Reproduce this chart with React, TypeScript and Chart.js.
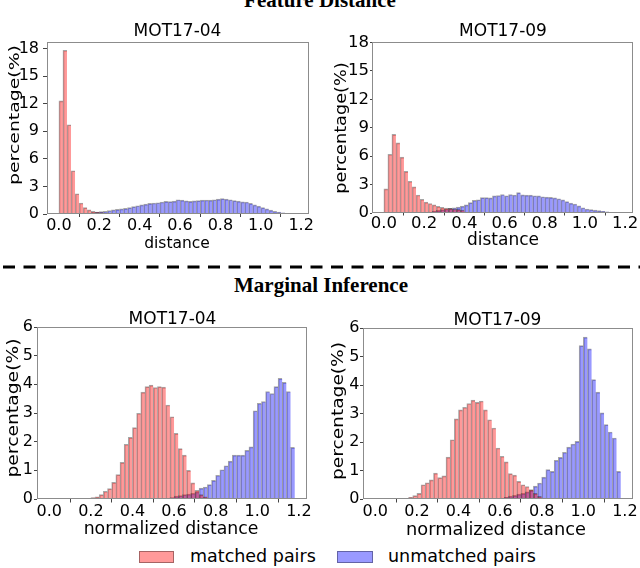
import { useEffect, useRef } from "react";
import { Chart, registerables } from "chart.js";

Chart.register(...registerables);

// ---------- data ----------
const binCenters = [
  0.01, 0.03, 0.05, 0.07, 0.09, 0.11, 0.13, 0.15, 0.17, 0.19,
  0.21, 0.23, 0.25, 0.27, 0.29, 0.31, 0.33, 0.35, 0.37, 0.39,
  0.41, 0.43, 0.45, 0.47, 0.49, 0.51, 0.53, 0.55, 0.57, 0.59,
  0.61, 0.63, 0.65, 0.67, 0.69, 0.71, 0.73, 0.75, 0.77, 0.79,
  0.81, 0.83, 0.85, 0.87, 0.89, 0.91, 0.93, 0.95, 0.97, 0.99,
  1.01, 1.03, 1.05, 1.07, 1.09, 1.11, 1.13, 1.15, 1.17,
];
const xTickValues = [0, 0.2, 0.4, 0.6, 0.8, 1.0, 1.2];
const featureYTicks = [0, 3, 6, 9, 12, 15, 18];
const marginalYTicks = [0, 1, 2, 3, 4, 5, 6];

const seriesNames = ["matched pairs", "unmatched pairs"];
const panelTitles = ["MOT17-04", "MOT17-09", "MOT17-04", "MOT17-09"];
const sectionTitles = ["Feature Distance", "Marginal Inference"];
const yAxisLabel = "percentage(%)";
const xAxisLabels = ["distance", "normalized distance"];

const featMatched04 = [
  12.3, 17.8, 9.7, 4.7, 2.2, 1.2, 0.7, 0.45, 0.3, 0.22,
  0.15, 0.1, 0.07, 0.05, 0.03, 0.02, 0, 0, 0, 0,
  0, 0, 0, 0, 0, 0, 0, 0, 0, 0,
  0, 0, 0, 0, 0, 0, 0, 0, 0, 0,
  0, 0, 0, 0, 0, 0, 0, 0, 0, 0,
  0, 0, 0, 0, 0, 0, 0, 0, 0,
];
const featUnmatched04 = [
  0, 0, 0, 0, 0, 0, 0, 0.05, 0.15, 0.2,
  0.25, 0.3, 0.38, 0.45, 0.5, 0.55, 0.62, 0.7, 0.8, 0.9,
  1.0, 1.08, 1.15, 1.2, 1.22, 1.3, 1.38, 1.35, 1.4, 1.55,
  1.5, 1.42, 1.38, 1.42, 1.45, 1.5, 1.52, 1.5, 1.55, 1.62,
  1.68, 1.62, 1.55, 1.45, 1.4, 1.32, 1.3, 1.15, 1.0, 0.85,
  0.7, 0.55, 0.42, 0.3, 0.2, 0.12, 0.07, 0.04, 0.02,
];
const featMatched09 = [
  2.55, 6.2, 8.3, 7.4, 5.9, 4.4, 3.35, 2.75, 1.9, 1.45,
  1.15, 1.0, 0.85, 0.7, 0.6, 0.52, 0.48, 0.42, 0.38, 0.32,
  0, 0, 0, 0, 0, 0, 0, 0, 0, 0,
  0, 0, 0, 0, 0, 0, 0, 0, 0, 0,
  0, 0, 0, 0, 0, 0, 0, 0, 0, 0,
  0, 0, 0, 0, 0, 0, 0, 0, 0,
];
const featUnmatched09 = [
  0, 0, 0, 0, 0, 0, 0, 0, 0, 0,
  0, 0.1, 0.2, 0.28, 0.35, 0.42, 0.5, 0.55, 0.62, 0.72,
  0.85, 1.1, 1.35, 1.4, 1.62, 1.62, 1.6, 1.8, 1.85, 1.95,
  1.82, 1.95, 1.9, 2.15, 1.92, 1.88, 1.88, 1.82, 1.8, 1.72,
  1.68, 1.65, 1.6, 1.5, 1.38, 1.2, 1.05, 0.95, 0.75, 0.55,
  0.42, 0.35, 0.3, 0.25, 0.18, 0.12, 0.08, 0.05, 0.02,
];
const margMatched04 = [
  0, 0, 0, 0, 0, 0, 0, 0, 0, 0,
  0.05, 0.08, 0.15, 0.27, 0.36, 0.58, 0.85, 1.28, 1.91, 2.15,
  2.49, 2.99, 3.73, 3.92, 3.97, 3.89, 3.92, 3.9, 3.28, 2.87,
  2.29, 1.76, 1.53, 1.0, 0.56, 0.3, 0.15, 0.08, 0.03, 0,
  0, 0, 0, 0, 0, 0, 0, 0, 0, 0,
  0, 0, 0, 0, 0, 0, 0, 0, 0,
];
const margUnmatched04 = [
  0, 0, 0, 0, 0, 0, 0, 0, 0, 0,
  0, 0, 0, 0, 0, 0, 0, 0, 0, 0,
  0, 0, 0, 0, 0, 0, 0, 0, 0, 0.05,
  0.1, 0.12, 0.15, 0.17, 0.2, 0.25, 0.38, 0.42, 0.5, 0.65,
  0.83, 1.02, 1.16, 1.32, 1.53, 1.53, 1.53, 1.7, 1.82, 3.08,
  3.34, 3.4, 3.75, 3.68, 3.92, 4.21, 4.07, 3.75, 1.8,
];
const margMatched09 = [
  0, 0, 0, 0, 0, 0, 0, 0, 0.06, 0.12,
  0.2, 0.5, 0.57, 0.67, 0.91, 0.75, 0.81, 1.47, 2.08, 2.81,
  3.13, 3.22, 3.35, 3.47, 3.39, 3.44, 3.13, 2.78, 2.49, 1.79,
  1.5, 1.3, 0.89, 0.84, 0.62, 0.5, 0.44, 0.33, 0.2, 0.09,
  0.03, 0, 0, 0, 0, 0, 0, 0, 0, 0,
  0, 0, 0, 0, 0, 0, 0, 0, 0,
];
const margUnmatched09 = [
  0, 0, 0, 0, 0, 0, 0, 0, 0, 0,
  0, 0, 0, 0, 0, 0, 0, 0, 0, 0,
  0, 0, 0, 0, 0, 0, 0, 0, 0, 0,
  0.03, 0.06, 0.1, 0.13, 0.17, 0.2, 0.25, 0.3, 0.45, 0.56,
  0.77, 1.03, 0.97, 1.36, 1.46, 1.64, 1.82, 1.93, 2.02, 5.38,
  5.68, 5.27, 4.19, 3.75, 3.02, 2.61, 2.35, 2.14, 0.97,
];

// ---------- styles ----------
const RED = "rgba(255,0,0,0.4)";
const BLUE = "rgba(0,0,255,0.4)";
const EDGE = "rgba(0,0,0,0.35)";
const FRAME = "#8c8c8c";
const SANS = "'DejaVu Sans', sans-serif";
const SERIF = "'Liberation Serif', 'Times New Roman', serif";

type PanelSpec = {
  area: [number, number, number, number];
  yMax: number;
  yTicks: number[];
  matched: number[];
  unmatched: number[];
  yTick: number;
  yPad: number;
  xTick: number;
  xPad: number;
  tickFont: number;
};

const framePlugin = {
  id: "frame",
  afterDatasetsDraw(chart: any) {
    const { ctx, chartArea: a } = chart;
    ctx.save();
    ctx.strokeStyle = FRAME;
    ctx.lineWidth = 1;
    const l = Math.round(a.left) + 0.5;
    const t = Math.round(a.top) + 0.5;
    const r = Math.round(a.right) - 0.5;
    const b = Math.round(a.bottom) - 0.5;
    ctx.strokeRect(l, t, r - l, b - t);
    ctx.restore();
  },
};

const PAD_L = 36;
const PAD_T = 12;
const PAD_R = 16;
const PAD_B = 30;

function Panel({ spec }: { spec: PanelSpec }) {
  const ref = useRef<HTMLCanvasElement | null>(null);
  const [l, t, r, b] = spec.area;
  const cw = r - l + PAD_L + PAD_R;
  const ch = b - t + PAD_T + PAD_B;

  useEffect(() => {
    const edge = { top: 1, left: 1, right: 0, bottom: 0 };
    const chart = new Chart(ref.current as HTMLCanvasElement, {
      type: "bar",
      data: {
        datasets: [
          {
            label: seriesNames[0],
            data: binCenters.map((x, i) => ({ x, y: spec.matched[i] })),
            backgroundColor: RED,
            borderColor: EDGE,
            borderWidth: edge,
            barPercentage: 1,
            categoryPercentage: 1,
            grouped: false,
          } as any,
          {
            label: seriesNames[1],
            data: binCenters.map((x, i) => ({ x, y: spec.unmatched[i] })),
            backgroundColor: BLUE,
            borderColor: EDGE,
            borderWidth: edge,
            barPercentage: 1,
            categoryPercentage: 1,
            grouped: false,
          } as any,
        ],
      },
      options: {
        responsive: false,
        animation: false,
        layout: { padding: { top: PAD_T, right: PAD_R, left: 0, bottom: 0 } },
        plugins: { legend: { display: false }, tooltip: { enabled: false } },
        scales: {
          x: {
            type: "linear",
            min: -0.059,
            max: 1.239,
            offset: false,
            afterBuildTicks: (s: any) => {
              s.ticks = xTickValues.map((v) => ({ value: v }));
            },
            afterFit: (s: any) => {
              s.height = PAD_B;
            },
            ticks: {
              callback: (v: any) => Number(v).toFixed(1),
              font: { family: SANS, size: spec.tickFont, lineHeight: 1 },
              color: "#000",
              padding: spec.xPad,
              maxRotation: 0,
              minRotation: 0,
              autoSkip: false,
            },
            grid: {
              drawOnChartArea: false,
              drawTicks: true,
              tickLength: spec.xTick,
              color: "#444",
            },
            border: { display: false },
          },
          y: {
            type: "linear",
            min: 0,
            max: spec.yMax,
            afterBuildTicks: (s: any) => {
              s.ticks = spec.yTicks.map((v) => ({ value: v }));
            },
            afterFit: (s: any) => {
              s.width = PAD_L;
            },
            ticks: {
              callback: (v: any) => String(v),
              font: { family: SANS, size: spec.tickFont, lineHeight: 1 },
              color: "#000",
              padding: spec.yPad,
            },
            grid: {
              drawOnChartArea: false,
              drawTicks: true,
              tickLength: spec.yTick,
              color: "#444",
            },
            border: { display: false },
          },
        },
      } as any,
      plugins: [framePlugin],
    });
    return () => chart.destroy();
  }, []);

  return (
    <canvas
      ref={ref}
      width={cw}
      height={ch}
      style={{ position: "absolute", left: l - PAD_L, top: t - PAD_T }}
    />
  );
}

function Text({
  x,
  y,
  text,
  size,
  rotate,
  stretch,
  bold,
  serif,
}: {
  x: number;
  y: number;
  text: string;
  size: number;
  rotate?: boolean;
  stretch?: number;
  bold?: boolean;
  serif?: boolean;
}) {
  const tr = rotate
    ? `translate(-50%,-50%) rotate(-90deg) scaleX(${stretch || 1})`
    : `translate(-50%,-50%) scaleX(${stretch || 1})`;
  return (
    <div
      style={{
        position: "absolute",
        left: x,
        top: y,
        transform: tr,
        whiteSpace: "nowrap",
        fontFamily: serif ? SERIF : SANS,
        fontWeight: bold ? 700 : 400,
        fontSize: size,
        lineHeight: 1,
        color: "#000",
      }}
    >
      {text}
    </div>
  );
}

const panels: PanelSpec[] = [
  {
    area: [47, 42, 309, 214],
    yMax: 18.7,
    yTicks: featureYTicks,
    matched: featMatched04,
    unmatched: featUnmatched04,
    yTick: 4,
    yPad: 4,
    xTick: 3,
    xPad: 0.5,
    tickFont: 16,
  },
  {
    area: [372, 42, 633, 213],
    yMax: 18.05,
    yTicks: featureYTicks,
    matched: featMatched09,
    unmatched: featUnmatched09,
    yTick: 2,
    yPad: 1,
    xTick: 2.5,
    xPad: 0,
    tickFont: 16.5,
  },
  {
    area: [37, 327, 307, 499],
    yMax: 6,
    yTicks: marginalYTicks,
    matched: margMatched04,
    unmatched: margUnmatched04,
    yTick: 3,
    yPad: 1,
    xTick: 3.5,
    xPad: 1,
    tickFont: 16,
  },
  {
    area: [363, 328, 633, 499],
    yMax: 6,
    yTicks: marginalYTicks,
    matched: margMatched09,
    unmatched: margUnmatched09,
    yTick: 3,
    yPad: 0.5,
    xTick: 3.5,
    xPad: 1,
    tickFont: 16,
  },
];

export default function App() {
  return (
    <div
      style={{
        position: "absolute",
        left: 0,
        top: 0,
        width: 640,
        height: 568,
        overflow: "hidden",
        background: "#fff",
      }}
    >
      {panels.map((p, i) => (
        <Panel key={i} spec={p} />
      ))}

      {/* section titles */}
      <Text x={320} y={0} text={sectionTitles[0]} size={21} bold serif />
      <Text x={321} y={285} text={sectionTitles[1]} size={21} bold serif />

      {/* dashed separator */}
      <svg
        width={640}
        height={6}
        style={{ position: "absolute", left: 0, top: 264 }}
      >
        <line
          x1={3}
          y1={3}
          x2={640}
          y2={3}
          stroke="#000"
          strokeWidth={3}
          strokeDasharray="12 8.5"
        />
      </svg>

      {/* panel titles */}
      <Text x={177.5} y={30} text={panelTitles[0]} size={17} />
      <Text x={503} y={30} text={panelTitles[1]} size={17} />
      <Text x={172.5} y={318} text={panelTitles[2]} size={17} />
      <Text x={497.5} y={318.5} text={panelTitles[3]} size={17} />

      {/* y labels */}
      <Text x={13.5} y={115} text={yAxisLabel} size={14.5} rotate stretch={1.3} />
      <Text x={340.5} y={128} text={yAxisLabel} size={15} rotate stretch={1.18} />
      <Text x={14} y={408} text={yAxisLabel} size={15.5} rotate stretch={1.21} />
      <Text x={339} y={411} text={yAxisLabel} size={15.5} rotate stretch={1.2} />

      {/* x labels */}
      <Text x={177} y={244} text={xAxisLabels[0]} size={15.5} />
      <Text x={503} y={239} text={xAxisLabels[0]} size={17} />
      <Text x={171} y={529} text={xAxisLabels[1]} size={17.3} />
      <Text x={496} y={529} text={xAxisLabels[1]} size={17.8} />

      {/* legend */}
      <div
        style={{
          position: "absolute",
          left: 139,
          top: 551,
          width: 33,
          height: 10,
          background: RED,
          border: `1px solid ${EDGE}`,
        }}
      />
      <div
        style={{
          position: "absolute",
          left: 190,
          top: 557,
          transform: "translateY(-50%)",
          fontFamily: SANS,
          fontSize: 17.5,
          lineHeight: 1,
          whiteSpace: "nowrap",
          color: "#000",
        }}
      >
        {seriesNames[0]}
      </div>
      <div
        style={{
          position: "absolute",
          left: 337,
          top: 551,
          width: 34,
          height: 10,
          background: BLUE,
          border: `1px solid ${EDGE}`,
        }}
      />
      <div
        style={{
          position: "absolute",
          left: 388,
          top: 557,
          transform: "translateY(-50%)",
          fontFamily: SANS,
          fontSize: 17.5,
          lineHeight: 1,
          whiteSpace: "nowrap",
          color: "#000",
        }}
      >
        {seriesNames[1]}
      </div>
    </div>
  );
}
